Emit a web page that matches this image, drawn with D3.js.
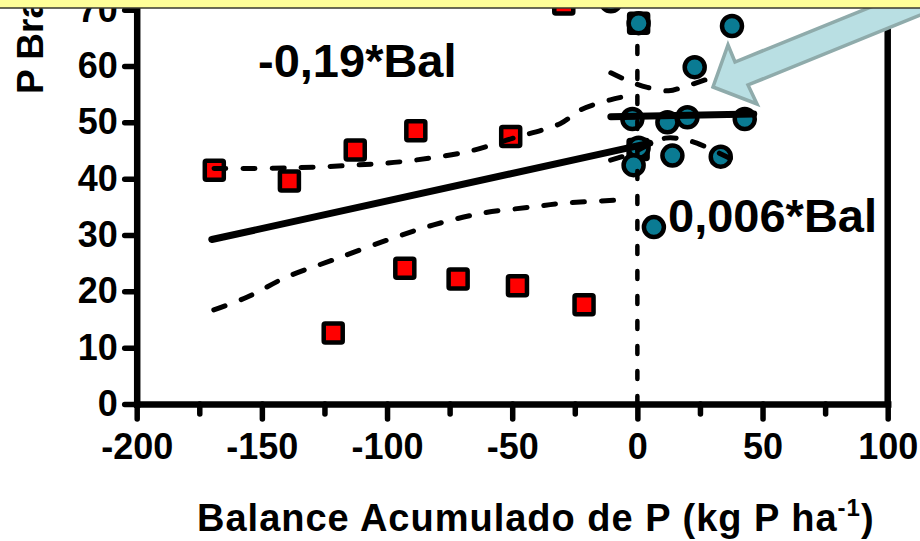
<!DOCTYPE html>
<html>
<head>
<meta charset="utf-8">
<script src="https://cdn.jsdelivr.net/npm/d3@7"></script>
<style>
  body { margin: 0; background: #fff; }
  text { font-family: "Liberation Sans", Arial, sans-serif; font-weight: bold; }
</style>
</head>
<body>
<svg id="chart" width="920" height="541"></svg>
<script>
// negative balance plots (red squares)
var redBal = [-169, -139, -112.7, -88.5, -50.6, -92.9, -71.6, -47.9, -121.5, -21.3, -29.4, 0.5, 0.3]
var redP   = [41.5, 39.6, 45.1, 48.5, 47.5, 24.1, 22.2, 21.0, 12.6, 17.6, 71.0, 67.6, 45.2]
// positive balance plots (blue circles)
var blueBal = [0.5, 37.8, 22.9, -2.0, 12.0, 20.0, 42.9, 0.5, -1.5, 14.0, 33.3, 6.6, -10.6]
var blueP   = [67.6, 67.1, 59.8, 50.6, 50.0, 50.9, 50.6, 45.5, 42.4, 44.1, 43.9, 31.4, 71.5]

// regression lines and 95% bands
var redFitBal = [-170, 5]
var redFitP = [29.2, 46.3]
var redUpBal = [-169.1, -139.8, -113.3, -94.5, -67.9, -49.5, -30.7, -22.8, -10.8, -1.6]
var redUpP   = [41.8, 41.9, 42.4, 43.0, 44.8, 47.2, 49.8, 52.2, 54.0, 54.9]
var redLoBal = [-169.2, -155.8, -139.8, -121.4, -99.9, -81.4, -61.5, -41.5, -30.7, -2.8]
var redLoP   = [16.7, 19.0, 22.6, 25.6, 29.1, 31.8, 33.9, 35.0, 35.6, 36.3]

var blueFitBal = [-10.6, 46.5]
var blueFitP = [51.0, 51.5]
var blueUpBal = [-10.6, -3.3, 4, 12.5, 18.5, 30, 44]
var blueUpP   = [58.8, 57.3, 56.2, 55.6, 56.3, 58.0, 60.5]
var blueLoBal = [-10.7, -4.1, 11.2, 17.9, 23.8, 39.8]
var blueLoP   = [43.3, 44.2, 47.2, 47.0, 46.3, 43.0]

var xMajor = [-200, -150, -100, -50, 0, 50, 100]
var xMinor = [-175, -125, -75, -25, 25, 75]
var yTicks = [0, 10, 20, 30, 40, 50, 60, 70]

var svg = d3.select("#chart")

var x = d3.scaleLinear().domain([-200, 100]).range([136.7, 887.7])
var y = d3.scaleLinear().domain([0, 80]).range([404, 404 - 80 * 5.633])

function pairs(a, b) { return a.map(function(v, i) { return [v, b[i]] }) }

var line = d3.line()
  .x(function(d) { return x(d[0]) })
  .y(function(d) { return y(d[1]) })
var curve = d3.line()
  .curve(d3.curveCatmullRom)
  .x(function(d) { return x(d[0]) })
  .y(function(d) { return y(d[1]) })

// markers
svg.append("g").selectAll("rect")
  .data(pairs(redBal, redP))
  .enter().append("rect")
  .attr("x", function(d) { return x(d[0]) - 9.5 })
  .attr("y", function(d) { return y(d[1]) - 9.5 })
  .attr("width", 19).attr("height", 19)
  .attr("rx", 1.5)
  .attr("fill", "#ff0000")
  .attr("stroke", "#000").attr("stroke-width", 4.5)

svg.append("g").selectAll("circle")
  .data(pairs(blueBal, blueP))
  .enter().append("circle")
  .attr("cx", function(d) { return x(d[0]) })
  .attr("cy", function(d) { return y(d[1]) })
  .attr("r", 10)
  .attr("fill", "#0a7b93")
  .attr("stroke", "#000").attr("stroke-width", 4.5)

// fit lines
var fits = [pairs(redFitBal, redFitP), pairs(blueFitBal, blueFitP)]
svg.append("g").selectAll("path")
  .data(fits)
  .enter().append("path")
  .attr("d", line)
  .attr("fill", "none").attr("stroke", "#000")
  .attr("stroke-width", 7).attr("stroke-linecap", "round")

var bands = [pairs(redUpBal, redUpP), pairs(redLoBal, redLoP), pairs(blueUpBal, blueUpP), pairs(blueLoBal, blueLoP)]
svg.append("g").selectAll("path")
  .data(bands)
  .enter().append("path")
  .attr("d", curve)
  .attr("fill", "none").attr("stroke", "#000")
  .attr("stroke-width", 5).attr("stroke-linecap", "round")
  .attr("stroke-dasharray", "12,17")

// vertical dashed line at balance 0
svg.append("line")
  .attr("x1", x(0)).attr("x2", x(0))
  .attr("y1", y(0)).attr("y2", y(66.5))
  .attr("stroke", "#000").attr("stroke-width", 4.5)
  .attr("stroke-linecap", "round").attr("stroke-dasharray", "8,17")

// axes (plain hyphen for negatives, like the original)
var fmt = function(d) { return String(d) }
var yAxis = svg.append("g")
  .attr("transform", "translate(" + x(-200) + ",0)")
  .call(d3.axisLeft(y).tickValues(yTicks).tickSize(12).tickSizeOuter(0).tickPadding(7).tickFormat(fmt))
var xAxis = svg.append("g")
  .attr("transform", "translate(0," + y(0) + ")")
  .call(d3.axisBottom(x).tickValues(xMajor).tickSize(15).tickSizeOuter(0).tickPadding(14).tickFormat(fmt))
var xAxisMinor = svg.append("g")
  .attr("transform", "translate(0," + y(0) + ")")
  .call(d3.axisBottom(x).tickValues(xMinor).tickSize(10).tickSizeOuter(0).tickFormat(""))

svg.selectAll(".domain").attr("stroke-width", 6.5).attr("stroke-linecap", "square")
svg.selectAll(".tick line").attr("stroke-width", 5.5).attr("stroke-linecap", "round")
svg.selectAll(".tick text").attr("font-size", 36).attr("fill", "#000")
  .style("font-family", "'Liberation Sans', Arial, sans-serif").style("font-weight", "bold")
xAxisMinor.select(".domain").remove()

// right frame line
svg.append("line")
  .attr("x1", x(100)).attr("x2", x(100))
  .attr("y1", y(0)).attr("y2", y(80))
  .attr("stroke", "#000").attr("stroke-width", 6.5)

// axis titles
svg.append("text")
  .attr("transform", "translate(43,94) rotate(-90)")
  .attr("font-size", 37)
  .text("P Bray (mg kg-1)")

var xt = svg.append("text")
  .attr("x", 197).attr("y", 531)
  .attr("font-size", 38)
  .style("letter-spacing", "1px")
xt.append("tspan").text("Balance Acumulado de P (kg P ha")
xt.append("tspan").attr("dy", -15).attr("font-size", 24).text("-1")
xt.append("tspan").attr("dy", 15).text(")")

// slope labels
svg.append("text").attr("x", 258).attr("y", 77).attr("font-size", 47).text("-0,19*Bal")
svg.append("text").attr("x", 668).attr("y", 232).attr("font-size", 47).text("0,006*Bal")

// callout arrow
var arrowPts = [[713, 87], [757, 104], [748, 85], [940, 7], [940, -21], [735, 62], [728, 45]]
svg.append("polygon")
  .attr("points", arrowPts.map(function(p) { return p.join(",") }).join(" "))
  .attr("fill", "#b9dfe3").attr("stroke", "#8fabab").attr("stroke-width", 3.5)
  .attr("stroke-linejoin", "miter")

// slide banner at the top
svg.append("rect").attr("x", -5).attr("y", -5).attr("width", 930).attr("height", 13)
  .attr("fill", "#ffff99").attr("stroke", "#3a3a30").attr("stroke-width", 1.5)
</script>
</body>
</html>
